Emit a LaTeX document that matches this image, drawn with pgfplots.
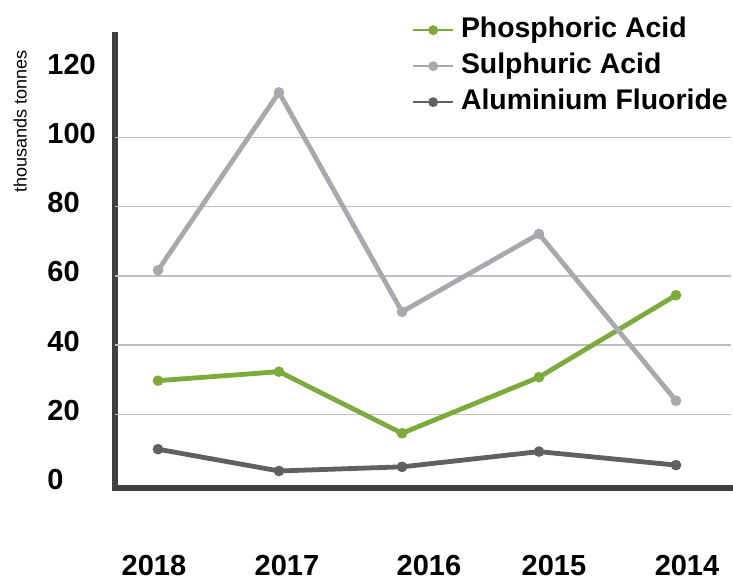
\documentclass[border=0pt]{standalone}
\usepackage{fontspec}
\setmainfont{Liberation Sans}
\usepackage{pgfplots}
\pgfplotsset{compat=1.18}
\definecolor{acidgreen}{RGB}{125,170,60}
\definecolor{sulphgray}{RGB}{168,169,172}
\definecolor{alugray}{RGB}{96,96,98}
\definecolor{axisgray}{RGB}{64,64,64}

\begin{document}
\begin{tikzpicture}
\begin{axis}[
    scale only axis,
    width=308pt, height=226.5pt,
    xmin=115, xmax=731,
    ymin=-1.3, ymax=129.6,
    clip=false,
    axis x line=bottom, axis y line=left,
    axis line style={-, line width=2.8pt, axisgray, line cap=rect},
    xtick={154,287,429,554,687},
    xticklabels={2018,2017,2016,2015,2014},
    ytick={0,20,...,120},
    major tick length=0pt,
    extra y ticks={20,40,60,80,100},
    extra y tick labels={},
    extra y tick style={ymajorgrids=true},
    major grid style={line width=0.7pt, color=black!25},
    /pgf/number format/assume math mode=true,
    ticklabel style={font=\bfseries\fontsize{14.5}{17}\selectfont, inner sep=0pt},
    xticklabel style={anchor=north, yshift=-33.5pt},
    yticklabel style={anchor=west, xshift=-34pt, yshift=2pt},
    ylabel={thousands tonnes},
    ylabel style={at={(axis description cs:-0.154,0.808)}, anchor=center, font=\fontsize{9}{11}\selectfont},
    legend style={at={(axis cs:412,135.0)}, anchor=north west, draw=none, fill=none,
        inner sep=0pt, font=\bfseries\fontsize{14.2}{17}\selectfont,
        nodes={inner sep=0pt, text height=10.5pt, text depth=3pt},
        row sep=4.5pt, /tikz/every odd column/.style={column sep=3.5pt}},
    legend cell align=left,
    legend image code/.code={\draw[mark repeat=2, mark phase=2, #1, line width=0.8pt, mark size=2.2pt]
        plot coordinates {(0pt,0pt)(10pt,0pt)(20pt,0pt)};},
    every axis plot/.append style={line width=2.4pt, mark=*, mark size=2.4pt,
        mark options={line width=0.5pt}},
]
\addplot[color=acidgreen] coordinates {
    (158,29.7)(279,32.3)(402,14.5)(539,30.7)(676,54.4)
};
\addlegendentry{Phosphoric Acid}
\addplot[color=sulphgray] coordinates {
    (158,61.6)(279,113.0)(402,49.6)(539,72.1)(676,23.9)
};
\addlegendentry{Sulphuric Acid}
\addplot[color=alugray] coordinates {
    (158,9.9)(279,3.6)(402,4.8)(539,9.2)(676,5.3)
};
\addlegendentry{Aluminium Fluoride}
\coordinate (bbsw) at (axis cs:0,-27.6);
\coordinate (bbne) at (axis cs:733,139.7);
\end{axis}
\pgfresetboundingbox
\useasboundingbox (bbsw) rectangle (bbne);
\end{tikzpicture}
\end{document}
